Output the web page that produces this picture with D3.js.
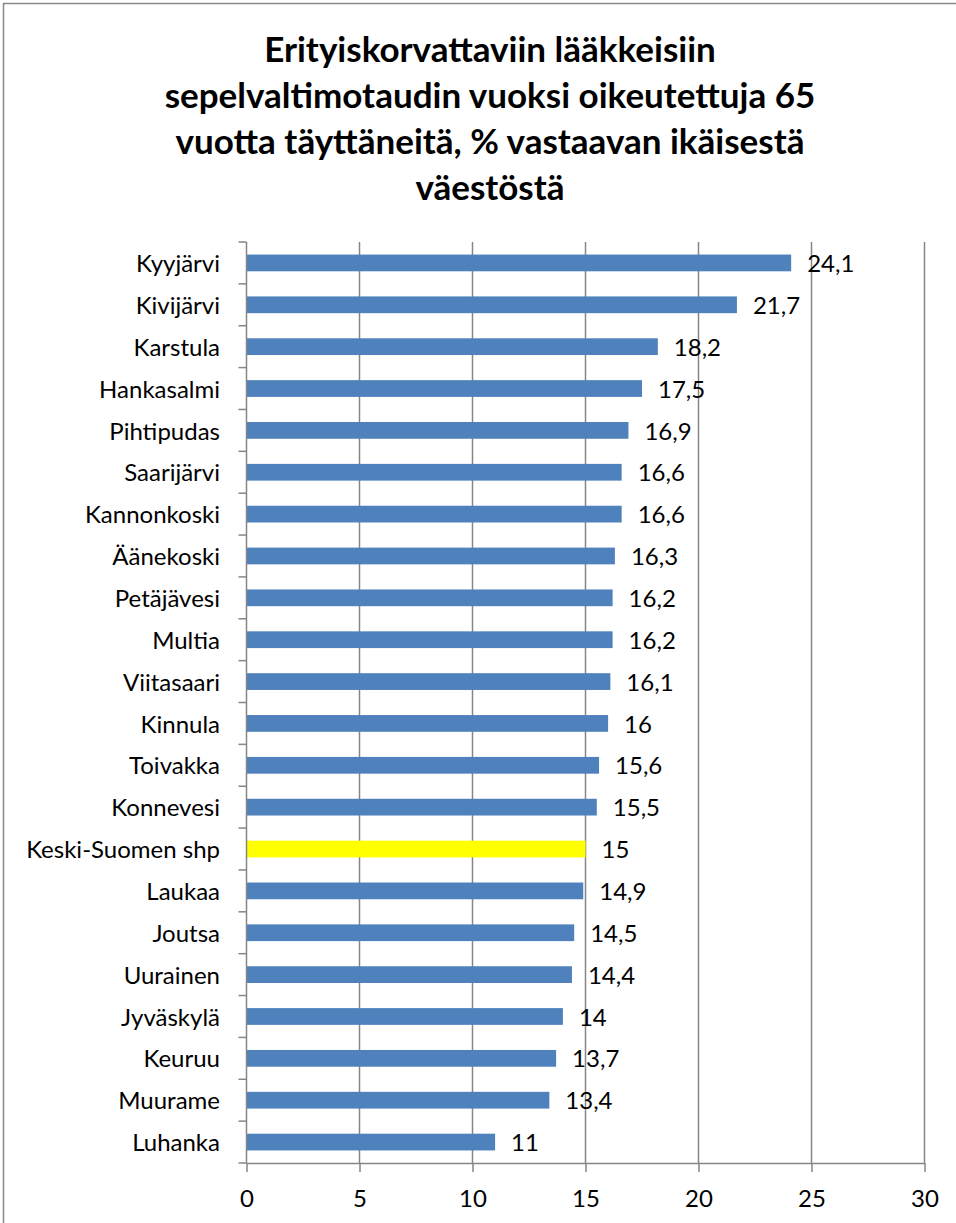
<!DOCTYPE html>
<html lang="fi">
<head>
<meta charset="UTF-8">
<title>Erityiskorvattaviin lääkkeisiin oikeutetut</title>
<script src="https://d3js.org/d3.v7.min.js"></script>
<style>
  body{ margin:0; background:#fff; }
  .chart{ font-family: Lato, "Liberation Sans", sans-serif; }
  .chart text{ fill:#000; }
</style>
</head>
<body>
<svg class="chart"></svg>
<script>
// data, top to bottom as in the chart
const kunnat = ['Kyyjärvi','Kivijärvi','Karstula','Hankasalmi','Pihtipudas','Saarijärvi',
  'Kannonkoski','Äänekoski','Petäjävesi','Multia','Viitasaari','Kinnula','Toivakka',
  'Konnevesi','Keski-Suomen shp','Laukaa','Joutsa','Uurainen','Jyväskylä','Keuruu',
  'Muurame','Luhanka'];
const osuus = [24.1,21.7,18.2,17.5,16.9,16.6,16.6,16.3,16.2,16.2,16.1,16,15.6,15.5,15,
  14.9,14.5,14.4,14,13.7,13.4,11];
const korostus = 'Keski-Suomen shp';
const xTicks = [0,5,10,15,20,25,30];
const otsikko = ['Erityiskorvattaviin lääkkeisiin',
  'sepelvaltimotaudin vuoksi oikeutettuja 65',
  'vuotta täyttäneitä, % vastaavan ikäisestä',
  'väestöstä'];

const W = 956, H = 1223;
const plot = {left:246.5, right:924.5, top:242, bottom:1163};
const fmt = d => String(d).replace('.', ',');

const svg = d3.select('.chart').attr('width', W).attr('height', H);

// outer chart border (runs off the right/bottom of the picture)
svg.append('rect')
  .attr('x', 3.5).attr('y', 3.5)
  .attr('width', W + 10).attr('height', H + 10)
  .attr('fill', 'none').attr('stroke', '#888').attr('stroke-width', 1.5);

// title
svg.append('g').selectAll('text')
  .data(otsikko).enter()
  .append('text')
  .attr('x', 490)
  .attr('y', (d, i) => 62 + i * 46)
  .attr('text-anchor', 'middle')
  .style('font-size', '35px')
  .style('font-weight', 'bold')
  .text(d => d);

const x = d3.scaleLinear().domain([0, 30]).range([plot.left, plot.right]);
const y = d3.scaleBand().domain(kunnat).range([plot.top, plot.bottom]).paddingInner(0.6).paddingOuter(0.3);
const yBounds = d3.scaleLinear().domain([0, kunnat.length]).range([plot.top, plot.bottom]);

// vertical gridlines
svg.append('g').selectAll('line')
  .data(xTicks.slice(1)).enter()
  .append('line')
  .attr('x1', d => x(d)).attr('x2', d => x(d))
  .attr('y1', plot.top).attr('y2', plot.bottom)
  .attr('stroke', '#868686').attr('stroke-width', 1.5);

// bars
svg.append('g').selectAll('rect')
  .data(kunnat).enter()
  .append('rect')
  .attr('x', x(0))
  .attr('y', d => y(d))
  .attr('width', (d, i) => x(osuus[i]) - x(0))
  .attr('height', y.bandwidth())
  .attr('fill', d => d === korostus ? '#FFFF00' : '#4F81BD');

// value labels
svg.append('g').selectAll('text')
  .data(kunnat).enter()
  .append('text')
  .attr('x', (d, i) => x(osuus[i]) + 16)
  .attr('y', d => y(d) + y.bandwidth() / 2)
  .attr('dy', '0.38em')
  .style('font-size', '24px')
  .text((d, i) => fmt(osuus[i]));

// y axis: line, category boundary ticks, labels
const yAx = svg.append('g');
yAx.append('line')
  .attr('x1', plot.left).attr('x2', plot.left)
  .attr('y1', plot.top).attr('y2', plot.bottom)
  .attr('stroke', '#868686').attr('stroke-width', 1.5);
yAx.selectAll('.tk')
  .data(d3.range(kunnat.length + 1)).enter()
  .append('line')
  .attr('x1', plot.left - 8).attr('x2', plot.left)
  .attr('y1', d => yBounds(d)).attr('y2', d => yBounds(d))
  .attr('stroke', '#868686').attr('stroke-width', 1.5);
yAx.selectAll('text')
  .data(kunnat).enter()
  .append('text')
  .attr('x', 220)
  .attr('y', d => y(d) + y.bandwidth() / 2)
  .attr('dy', '0.38em')
  .attr('text-anchor', 'end')
  .style('font-size', '24px')
  .text(d => d);

// x axis
const xAxis = d3.axisBottom(x).tickValues(xTicks).tickSize(9).tickPadding(18).tickSizeOuter(0);
const xg = svg.append('g')
  .attr('transform', 'translate(0,' + plot.bottom + ')')
  .call(xAxis);
xg.select('.domain').attr('stroke', '#868686').attr('stroke-width', 1.5);
xg.selectAll('.tick line').attr('stroke', '#868686').attr('stroke-width', 1.5);
xg.selectAll('.tick text')
  .style('font-size', '24px')
  .style('font-family', 'Lato, "Liberation Sans", sans-serif')
  .attr('fill', '#000');
</script>
</body>
</html>
